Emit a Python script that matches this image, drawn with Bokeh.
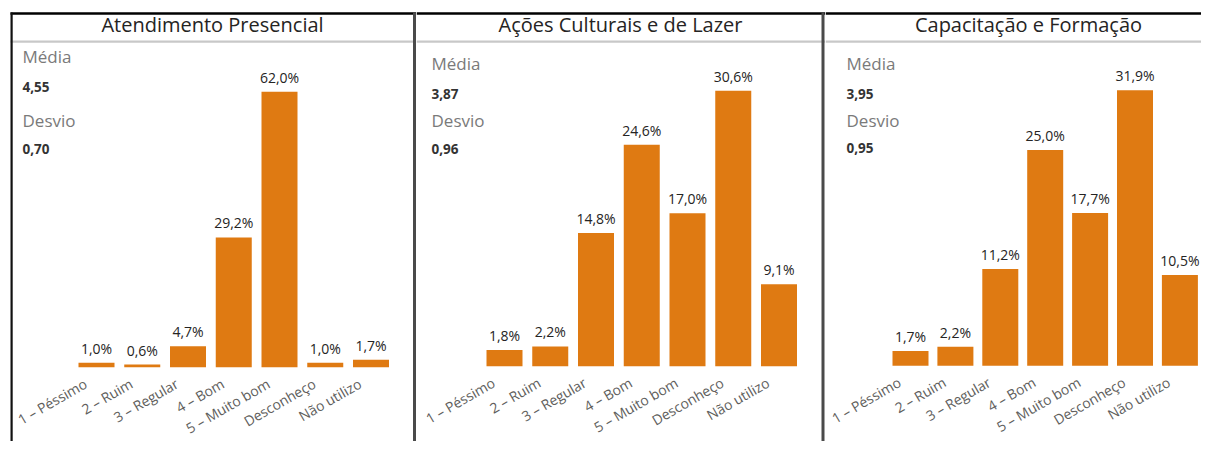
import math
from bokeh.plotting import figure
from bokeh.models import ColumnDataSource, Range1d, Label, BoxAnnotation
from bokeh.layouts import row
from bokeh.embed import file_html
from bokeh.resources import INLINE
from bokeh.core.properties import value

# ---------------- data ----------------
categories = ["1 – Péssimo", "2 – Ruim", "3 – Regular", "4 – Bom",
              "5 – Muito bom", "Desconheço", "Não utilizo"]
panel_titles = ["Atendimento Presencial", "Ações Culturais e de Lazer",
                "Capacitação e Formação"]
atendimento = [1.0, 0.6, 4.7, 29.2, 62.0, 1.0, 1.7]
acoes = [1.8, 2.2, 14.8, 24.6, 17.0, 30.6, 9.1]
capacitacao = [1.7, 2.2, 11.2, 25.0, 17.7, 31.9, 10.5]
medias = ["4,55", "3,87", "3,95"]
desvios = ["0,70", "0,96", "0,95"]

# ---------------- layout / style ----------------
H = 441
WIDTHS = [416, 409, 376]
PX_PER_CAT = [45.75, 45.75, 44.9]
FIRST_CX = [96.0, 88.0, 85.0]
BASE_CY = [366.7, 365.7, 365.3]
MAX_BAR_PX = 275.5
ORANGE = "#DF7A12"
DARK = "#252423"
GRAY = "#605E5C"
FONT = "Open Sans"
LABEL_SHIFT = -7.0  # Label baseline correction (px)

# per-panel text positions (canvas px)
TITLE_CX = [212, 204, 203]
STAT_X = [22, 15, 21]
STAT_Y = [[62.7, 93, 127, 155], [69.5, 100, 127, 155.5], [70, 100.5, 126.5, 154.5]]


def fmt(v):
    return f"{v:.1f}".replace(".", ",") + "%"


def make_panel(i, vals):
    W = WIDTHS[i]
    base = BASE_CY[i]
    ppc = PX_PER_CAT[i]
    dpp = max(vals) / MAX_BAR_PX
    x0 = -FIRST_CX[i] / ppc

    def px_x(cx):
        return x0 + cx / ppc

    def px_y(cy):
        return (base - cy) * dpp

    p = figure(width=W, height=H,
               x_range=Range1d(x0, x0 + W / ppc),
               y_range=Range1d(px_y(H), px_y(0)),
               output_backend="svg", toolbar_location=None,
               x_axis_location=None, y_axis_location=None,
               min_border=0, outline_line_color=None)
    p.grid.visible = False
    p.background_fill_color = "white"
    p.border_fill_color = "white"

    src = ColumnDataSource(dict(
        x=list(range(len(categories))),
        top=vals,
        label=[fmt(v) for v in vals],
        cat=categories,
    ))

    p.vbar(x="x", top="top", bottom=0, width=36 / ppc, source=src,
           fill_color=ORANGE, line_color=None)

    p.text(x="x", y="top", text="label", source=src,
           text_align="center", text_baseline="alphabetic", y_offset=-14.5,
           text_font=value(FONT), text_font_size="14px", text_color=DARK)

    p.text(x="x", y=0, text="cat", source=src, angle=math.pi / 6,
           text_align="right", text_baseline="middle",
           x_offset=-11, y_offset=15,
           text_font=value(FONT), text_font_size="14px", text_color=GRAY)

    # title
    p.add_layout(Label(x=px_x(TITLE_CX[i]), y=px_y(31 + LABEL_SHIFT), text=panel_titles[i],
                       text_align="center", text_baseline="alphabetic",
                       text_font=FONT, text_font_size="20px", text_color=DARK))

    # stats
    sy = STAT_Y[i]
    for k, (txt, big) in enumerate([("Média", True), (medias[i], False),
                                    ("Desvio", True), (desvios[i], False)]):
        p.add_layout(Label(
            x=px_x(STAT_X[i]), y=px_y(sy[k] + LABEL_SHIFT), text=txt,
            text_align="left", text_baseline="alphabetic",
            text_font=FONT,
            text_font_size="17px" if big else "13.5px",
            text_font_style="normal" if big else "bold",
            text_color="#7A7A7A" if big else "#333333"))

    # frame lines
    left_edge = px_x(10) if i == 0 else None
    p.add_layout(BoxAnnotation(left=left_edge, top=px_y(11.8), bottom=px_y(14.2),
                               fill_color="black", fill_alpha=1, line_color=None))
    p.add_layout(BoxAnnotation(left=left_edge, top=px_y(40), bottom=px_y(42.3),
                               fill_color="#C8C8C8", fill_alpha=1, line_color=None))
    if i == 0:
        p.add_layout(BoxAnnotation(left=px_x(10), right=px_x(12.2), top=px_y(12),
                                   fill_color="#111111", fill_alpha=1, line_color=None))
    if i < 2:
        rx = 412.5 if i == 0 else 405.0
        p.add_layout(BoxAnnotation(left=px_x(rx), right=px_x(rx + 3), top=px_y(12),
                                   fill_color="#4A4A4A", fill_alpha=1, line_color=None))
    return p


panels = [make_panel(0, atendimento), make_panel(1, acoes), make_panel(2, capacitacao)]
layout = row(*panels, spacing=0)

open("out.html", "w").write(file_html(layout, INLINE))
